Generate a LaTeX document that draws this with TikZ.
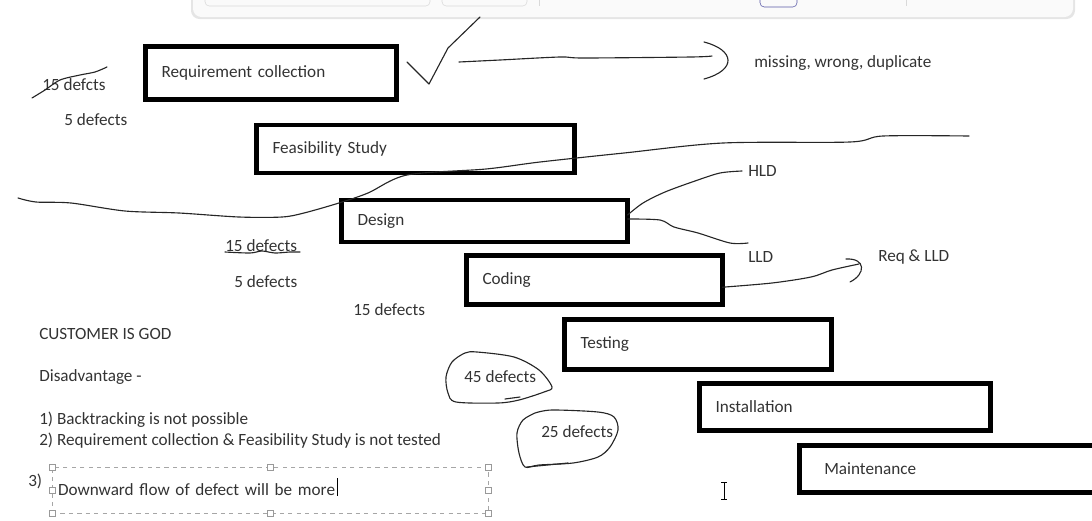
\documentclass[tikz,border=0pt]{standalone}
\usepackage{fontspec}
\setmainfont{Carlito}

\tikzset{
  phase/.style={draw, line width=3.5pt, outer sep=0pt, inner xsep=0.4cm, align=left, anchor=west,
    text=black!80, font=\fontsize{12.2}{14}\selectfont},
  note/.style={inner sep=0pt, anchor=west, text=black!80, font=\fontsize{12.2}{14}\selectfont},
  pen/.style={line width=0.8pt, line join=round, line cap=round, black!85},
  handle/.style={draw=gray!80, fill=white, line width=0.4pt, minimum size=4pt, inner sep=0pt},
}

\begin{document}
\begin{tikzpicture}[x=0.025cm, y=-0.025cm]
  \useasboundingbox (0,0) rectangle (1092,520);

  % toolbar
  \fill[gray!20, rounded corners=6pt] (191,-20) rectangle (1075,19);
  \fill[gray!4, rounded corners=6pt] (193,-20) rectangle (1073,17);
  \draw[gray!30, rounded corners=3pt] (205,-10) rectangle (430,6);
  \draw[gray!30, rounded corners=3pt] (442,-10) rectangle (527,6);
  \draw[gray!30] (539,-5) -- (539,6);
  \draw[gray!70!blue, rounded corners=3pt] (760,-10) rectangle (797,7);
  \draw[gray!30] (906,-5) -- (906,6);

  % phases
  \node[phase, minimum width=6.275cm, minimum height=1.325cm, text width=5.475cm] (req) at (145.5,73) {Requirement collection};
  \node[phase, minimum width=7.95cm, minimum height=1.2cm, text width=7.15cm] (feas) at (256.5,149) {Feasibility Study};
  \node[phase, minimum width=7.15cm, minimum height=1.05cm, text width=6.35cm] (design) at (341.5,221) {Design};
  \node[phase, minimum width=6.4cm, minimum height=1.225cm, text width=5.6cm] (coding) at (466.5,280) {Coding};
  \node[phase, minimum width=6.675cm, minimum height=1.25cm, text width=5.875cm, inner xsep=0.32cm] (testing) at (564.5,344.5) {Testing};
  \node[phase, minimum width=7.275cm, minimum height=1.175cm, text width=6.475cm] (install) at (699.5,407) {Installation};
  \node[phase, minimum width=7.25cm, minimum height=1.175cm, text width=6.45cm, inner xsep=0.62cm] (maint) at (799.5,469) {Maintenance};

  % notes
  \node[note] (def15a) at (42,85) {15 defcts};
  \node[note] (def5a) at (64,120) {5 defects};
  \node[note] (missing) at (754,63) {missing, wrong, duplicate};
  \node[note] (hld) at (748,171) {HLD};
  \node[note] (lld) at (748,257) {LLD};
  \node[note] (reqlld) at (878,257) {Req \& LLD};
  \node[note] (def15b) at (225,246) {15 defects};
  \node[note] (def5b) at (234,282) {5 defects};
  \node[note] (def15c) at (353,310) {15 defects};
  \node[note] (customer) at (39,334) {CUSTOMER IS GOD};
  \node[note] (disadv) at (39,377) {Disadvantage -};
  \node[note] (item1) at (39,420) {1) Backtracking is not possible};
  \node[note] (item2) at (39,441) {2) Requirement collection \& Feasibility Study is not tested};
  \node[note] (num3) at (28,481) {3)};
  \node[note] (def45) at (464,377) {45 defects};
  \node[note] (def25) at (541,432) {25 defects};

  % text box of item 3
  \node[draw=gray!70, dashed, line width=0.5pt, outer sep=0pt, anchor=north west, minimum width=10.9cm,
    minimum height=1.15cm, text width=10.6cm, inner xsep=0.15cm, align=left,
    text=black!80, font=\fontsize{12.2}{14}\selectfont] (item3) at (52,467) {Downward flow of defect will be more};
  \foreach [count=\i] \a in {north west, north, north east, east, south east, south, south west, west}
    \node[handle] (h\i) at (item3.\a) {};
  \draw[black, line width=0.6pt] (337,478) -- (337,496);

  % strike and underline
  \draw[pen] plot[smooth] coordinates {(32,98) (45,90) (60,80) (80,75) (95,72) (107,67)};
  \draw[pen] plot[smooth] coordinates {(225,252) (250,253) (262,251) (275,253) (290,252) (300,252)};

  % tick and arrow to missing
  \draw[pen] (407,62) -- (429,84) -- (448,48) -- (480,17);
  \coordinate (tick) at (459,62);
  \draw[pen] plot[smooth] coordinates {(tick) (500,60) (560,57) (584,58) (691,57) (712,56)};
  \draw[pen] (704,42) .. controls (735,50) and (737,70) .. (704,79);

  % dividing stroke
  \draw[pen] plot[smooth] coordinates {(18,198) (36,202) (71,203) (125,211) (179,213) (239,217)
    (282,217) (304,213) (339,203) (368,193) (407,175) (486,169) (540,162) (624,153) (723,143)
    (850,142) (883,136) (969,136)};

  % HLD and LLD
  \draw[pen] plot[smooth] coordinates {([yshift=0.15cm]design.east) (643,203) (665,192) (695,181) (720,173) ([xshift=-0.15cm]hld.west)};
  \draw[pen] plot[smooth] coordinates {([yshift=0.05cm]design.east) (660,220) (674,227) (698,233) (730,243) ([yshift=0.35cm]lld.west)};

  % Req & LLD arrow
  \draw[pen] plot[smooth] coordinates {([yshift=-0.18cm]coding.east) (772,283) (811,277) (832,270) (859,264)};
  \draw[pen] (846,259) .. controls (866,258) and (866,274) .. (850,282);

  % defect blobs
  \draw[pen] plot[smooth cycle] coordinates {(477,352) (514,357) (539,370) (552,387) (544,392)
    (519,400) (498,403) (456,402) (448,393) (446,377) (452,362) (465,353)};
  \draw[pen] (505,399) -- (520,397);
  \draw[pen] plot[smooth] coordinates {(535,413) (552,410) (598,412) (614,417) (618,430) (610,447)
    (598,457) (573,463) (539,465) (525,467) (519,453) (517,433) (523,420) (535,413)};
  \draw[pen] (527,467) -- (568,463);

  % cursor
  \draw[black, line width=0.6pt] (724,482) -- (724,499);
  \draw[black, line width=0.6pt] (721,482) -- (727,482) (721,499) -- (727,499);
\end{tikzpicture}
\end{document}
